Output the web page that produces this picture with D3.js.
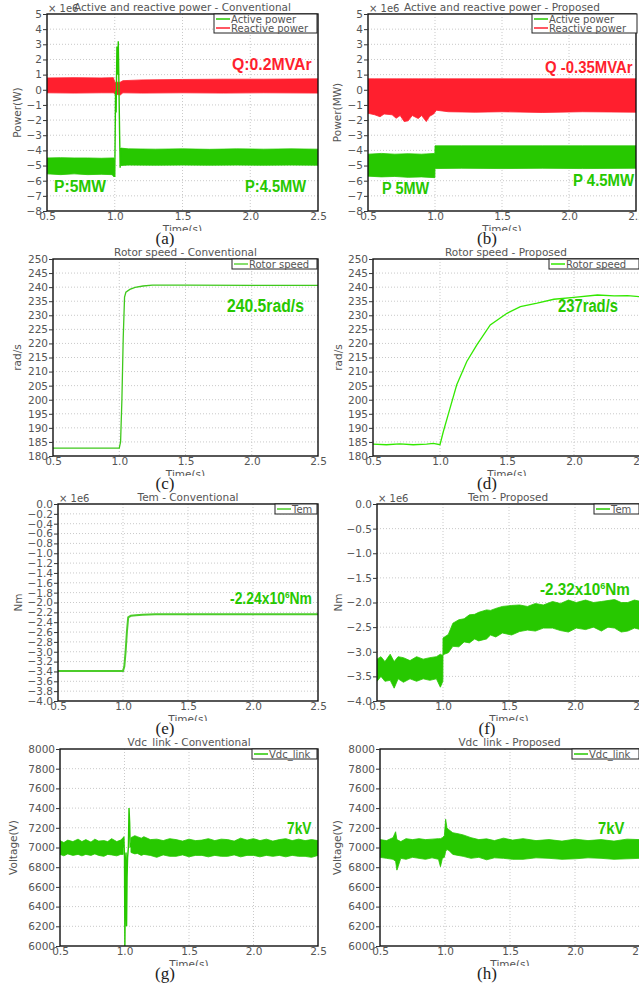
<!DOCTYPE html>
<html>
<head>
<meta charset="utf-8">
<script src="https://cdn.jsdelivr.net/npm/d3@7"></script>
<style>
  body { margin: 0; background: #fff; }
  svg text { font-family: "DejaVu Sans", sans-serif; }
</style>
</head>
<body>
<div id="chart"></div>
<script>
// ---- data ----
const timeTicks = [0.5, 1.0, 1.5, 2.0, 2.5];

// (a) conventional power, x1e6 : [t, low, high]
const pConvBand = [[0.5,-5.55,-4.5],[0.6,-5.6,-4.48],[0.7,-5.55,-4.5],[0.8,-5.6,-4.5],[0.9,-5.58,-4.52],[0.98,-5.6,-4.5],[0.995,-5.75,-4.5],[1.0,null,null],[1.046,-5.0,-3.85],[1.1,-4.97,-3.9],[1.3,-4.98,-3.92],[1.5,-4.97,-3.9],[1.7,-4.98,-3.93],[1.9,-4.97,-3.9],[2.1,-4.98,-3.92],[2.3,-4.97,-3.9],[2.5,-4.98,-3.92]];
const pConvJump = [[0.995,-4.6],[1.0,-5.75],[1.006,-0.1],[1.01,-1.5],[1.016,2.85],[1.021,1.0],[1.026,3.2],[1.031,0.2],[1.036,-3.0],[1.04,-5.15],[1.044,-3.85],[1.046,-4.6]];
const qConvBand = [[0.5,-0.2,0.78],[0.7,-0.22,0.8],[0.9,-0.2,0.78],[0.99,-0.2,0.8],[1.0,-0.28,0.5],[1.04,-0.35,0.5],[1.06,-0.2,0.6],[1.2,-0.22,0.65],[1.5,-0.2,0.68],[1.8,-0.22,0.7],[2.1,-0.2,0.7],[2.5,-0.22,0.72]];

// (b) proposed power, x1e6
const pPropBand = [[0.5,-5.7,-4.25],[0.6,-5.75,-4.2],[0.7,-5.72,-4.25],[0.8,-5.78,-4.22],[0.9,-5.75,-4.25],[0.999,-5.8,-4.2],[1.0,-5.2,-3.7],[1.2,-5.18,-3.7],[1.5,-5.2,-3.7],[1.8,-5.18,-3.7],[2.1,-5.2,-3.7],[2.5,-5.18,-3.7]];
const qPropBand = [[0.5,-1.55,0.72],[0.55,-1.65,0.72],[0.59,-1.78,0.72],[0.62,-1.6,0.72],[0.68,-1.65,0.72],[0.71,-1.88,0.72],[0.74,-1.7,0.72],[0.77,-2.1,0.72],[0.8,-2.05,0.72],[0.83,-1.7,0.72],[0.875,-1.9,0.72],[0.9,-1.7,0.72],[0.935,-2.1,0.72],[0.96,-1.75,0.72],[0.99,-1.6,0.72],[1.01,-1.35,0.72],[1.1,-1.45,0.72],[1.3,-1.48,0.72],[1.5,-1.45,0.72],[1.8,-1.5,0.72],[2.1,-1.45,0.72],[2.5,-1.48,0.72]];

// (c), (d) rotor speed, rad/s : [t, value]
const rotorConv = [[0.5,182.8],[1.0,182.8],[1.01,185],[1.02,200],[1.03,222],[1.04,236.5],[1.05,238.2],[1.08,239.2],[1.12,239.9],[1.18,240.4],[1.25,240.7],[1.5,240.7],[2.0,240.6],[2.5,240.6]];
const rotorProp = [[0.5,184.2],[0.6,184.0],[0.7,184.3],[0.8,184.0],[0.9,184.2],[0.95,184.5],[1.0,184.0],[1.025,188.7],[1.075,197],[1.125,205.3],[1.2,213.6],[1.275,219.5],[1.375,226.6],[1.5,230.7],[1.6,233.1],[1.725,234.3],[1.85,235.7],[2.0,236.4],[2.175,237.2],[2.3,236.9],[2.4,237.0],[2.5,236.6]];

// (e), (f) electromagnetic torque, x1e6 Nm
const temConv = [[0.5,-3.39],[1.0,-3.39],[1.01,-3.3],[1.02,-3.0],[1.03,-2.6],[1.04,-2.3],[1.06,-2.27],[1.1,-2.26],[1.15,-2.25],[1.25,-2.24],[2.5,-2.24]];
const temPropBand = [[0.5,-3.6,-3.15],[0.53,-3.5,-3.1],[0.56,-3.6,-3.2],[0.6,-3.58,-3.05],[0.63,-3.74,-3.2],[0.66,-3.55,-3.1],[0.7,-3.62,-3.12],[0.75,-3.55,-3.18],[0.8,-3.6,-3.1],[0.85,-3.55,-3.15],[0.9,-3.58,-3.12],[0.95,-3.55,-3.1],[0.98,-3.72,-3.05],[0.999,-3.6,-3.08],[1.0,-3.06,-2.72],[1.04,-3.02,-2.65],[1.075,-2.89,-2.42],[1.12,-2.9,-2.35],[1.16,-2.8,-2.33],[1.2,-2.82,-2.25],[1.24,-2.74,-2.24],[1.27,-2.78,-2.2],[1.33,-2.74,-2.15],[1.36,-2.66,-2.16],[1.4,-2.7,-2.12],[1.45,-2.62,-2.08],[1.52,-2.66,-2.06],[1.58,-2.59,-2.05],[1.64,-2.56,-2.08],[1.7,-2.58,-2.02],[1.76,-2.52,-2.05],[1.83,-2.52,-1.98],[1.89,-2.57,-2.02],[1.95,-2.6,-1.95],[2.01,-2.52,-2.0],[2.08,-2.55,-1.95],[2.14,-2.5,-2.0],[2.2,-2.58,-1.98],[2.25,-2.5,-1.96],[2.3,-2.52,-1.94],[2.35,-2.6,-2.0],[2.4,-2.58,-2.0],[2.45,-2.52,-1.95],[2.5,-2.55,-1.98]];

// (g), (h) dc link voltage, V
const vdcConvBand = [[0.5,6930,7070],[0.53,6915,7050],[0.56,6935,7075],[0.6,6920,7060],[0.64,6930,7085],[0.67,6915,7060],[0.7,6930,7080],[0.74,6920,7055],[0.77,6935,7085],[0.8,6920,7065],[0.84,6910,7070],[0.87,6930,7060],[0.9,6925,7090],[0.94,6915,7060],[0.97,6930,7075],[0.99,6930,7100],[1.0,null,null],[1.05,6950,7100],[1.08,6935,7120],[1.1,6940,7110],[1.13,6920,7095],[1.15,6930,7110],[1.2,6920,7080],[1.25,6900,7085],[1.3,6925,7070],[1.35,6910,7090],[1.4,6910,7080],[1.45,6925,7065],[1.5,6905,7085],[1.55,6920,7070],[1.6,6920,7075],[1.65,6905,7090],[1.7,6920,7070],[1.75,6910,7085],[1.8,6910,7080],[1.85,6925,7065],[1.9,6905,7095],[1.95,6920,7075],[2.0,6920,7090],[2.05,6905,7070],[2.1,6920,7085],[2.15,6910,7065],[2.2,6920,7080],[2.25,6905,7090],[2.3,6920,7070],[2.35,6910,7085],[2.4,6910,7070],[2.45,6900,7080],[2.5,6920,7070]];
const vdcConvJump = [[0.99,7000],[0.995,7110],[1.0,6900],[1.003,6000],[1.008,6800],[1.012,6950],[1.016,6200],[1.02,6700],[1.024,6900],[1.03,7000],[1.035,7400],[1.04,7250],[1.044,7000],[1.05,7050]];
const vdcPropBand = [[0.5,6900,7080],[0.55,6890,7070],[0.6,6880,7100],[0.62,6860,7160],[0.63,6770,7080],[0.66,6890,7060],[0.7,6880,7090],[0.75,6900,7080],[0.8,6890,7090],[0.85,6880,7080],[0.9,6895,7085],[0.95,6880,7090],[0.965,6805,7090],[0.98,6890,7100],[0.995,6900,7120],[1.005,6960,7287],[1.015,6980,7200],[1.03,6970,7180],[1.06,6930,7150],[1.1,6920,7140],[1.14,6910,7128],[1.2,6890,7100],[1.26,6900,7080],[1.32,6875,7088],[1.38,6895,7070],[1.45,6890,7095],[1.52,6880,7075],[1.6,6880,7090],[1.7,6895,7070],[1.8,6890,7080],[1.9,6880,7065],[2.0,6885,7085],[2.1,6895,7070],[2.2,6890,7080],[2.3,6880,7065],[2.4,6885,7085],[2.5,6890,7080]];

const GREEN = "#27c800", RED = "#ff1f2e";

const panels = [
  {label:"(a)", box:[47,318,14,211], yDomain:[-8,5], yTicks:d3.range(-8,6,1), fmt:d3.format("d"),
   title:"Active and reactive power - Conventional", yName:"Power(W)", yNameX:17, exp:true,
   legend:{x:214, w:103, items:[["Active power",GREEN],["Reactive power",RED]]},
   bands:[[qConvBand,RED],[pConvBand,GREEN]], lines:[[pConvJump,GREEN,1.4]],
   notes:[{t:"Q:0.2MVAr",x:232,y:70,w:80,c:RED,s:17},{t:"P:5MW",x:54,y:192,w:53,c:GREEN,s:17},{t:"P:4.5MW",x:245,y:192,w:62,c:GREEN,s:17}]},
  {label:"(b)", box:[368,636,14,211], yDomain:[-8,5], yTicks:d3.range(-8,6,1), fmt:d3.format("d"),
   title:"Active and reactive power - Proposed", yName:"Power(MW)", yNameX:337, exp:true,
   legend:{x:532, w:105, items:[["Active power",GREEN],["Reactive power",RED]]},
   bands:[[qPropBand,RED],[pPropBand,GREEN]], lines:[],
   notes:[{t:"Q -0.35MVAr",x:545,y:73,w:88,c:RED,s:17},{t:"P 5MW",x:382,y:194,w:48,c:GREEN,s:17},{t:"P 4.5MW",x:573,y:186,w:62,c:GREEN,s:17}]},
  {label:"(c)", box:[53,318,259,456], yDomain:[180,250], yTicks:d3.range(180,251,5), fmt:d3.format("d"),
   title:"Rotor speed - Conventional", yName:"rad/s", yNameX:17, exp:false,
   legend:{x:232, w:85, items:[["Rotor speed","#5fd33c"]]},
   bands:[], lines:[[rotorConv,"#3fc81c",1.3]],
   notes:[{t:"240.5rad/s",x:227,y:312,w:77,c:GREEN,s:19}]},
  {label:"(d)", box:[373,641,259,456], yDomain:[180,250], yTicks:d3.range(180,251,5), fmt:d3.format("d"),
   title:"Rotor speed - Proposed", yName:"rad/s", yNameX:338, exp:false,
   legend:{x:549, w:90, items:[["Rotor speed","#33e800"]]},
   bands:[], lines:[[rotorProp,"#33e800",1.3]],
   notes:[{t:"237rad/s",x:558,y:312,w:60,c:GREEN,s:19}]},
  {label:"(e)", box:[58,318,504,701], yDomain:[-4,0], yTicks:d3.range(-40,1,2).map(d => d/10), fmt:d3.format(".1f"),
   title:"Tem - Conventional", yName:"Nm", yNameX:18, exp:true,
   legend:{x:275, w:42, items:[["Tem","#4ccc2a"]]},
   bands:[], lines:[[temConv,"#4ccc2a",2]],
   notes:[{t:"-2.24x10",sup:"6",after:"Nm",x:230,y:604,w:82,c:GREEN,s:16}]},
  {label:"(f)", box:[377,641,504,701], yDomain:[-4,0], yTicks:d3.range(-40,1,5).map(d => d/10), fmt:d3.format(".1f"),
   title:"Tem - Proposed", yName:"Nm", yNameX:338, exp:true,
   legend:{x:594, w:45, items:[["Tem",GREEN]]},
   bands:[[temPropBand,GREEN]], lines:[],
   notes:[{t:"-2.32x10",sup:"6",after:"Nm",x:540,y:595,w:90,c:GREEN,s:16}]},
  {label:"(g)", box:[60,318,749,946], yDomain:[6000,8000], yTicks:d3.range(6000,8001,200), fmt:d3.format("d"),
   title:"Vdc_link - Conventional", yName:"Voltage(V)", yNameX:13, exp:false,
   legend:{x:252, w:65, items:[["Vdc_link",GREEN]]},
   bands:[[vdcConvBand,GREEN]], lines:[[vdcConvJump,GREEN,1.4]],
   notes:[{t:"7kV",x:287,y:834,w:25,c:GREEN,s:17}]},
  {label:"(h)", box:[380,640,749,946], yDomain:[6000,8000], yTicks:d3.range(6000,8001,200), fmt:d3.format("d"),
   title:"Vdc_link - Proposed", yName:"Voltage(V)", yNameX:337, exp:false,
   legend:{x:572, w:67, items:[["Vdc_link",GREEN]]},
   bands:[[vdcPropBand,GREEN]], lines:[],
   notes:[{t:"7kV",x:598,y:834,w:27,c:GREEN,s:17}]}
];

const svg = d3.select("#chart").append("svg")
  .attr("width", 639).attr("height", 985);

panels.forEach((p, i) => drawPanel(p, i));

function drawPanel(p, i) {
  const [left, right, top, bottom] = p.box;
  const g = svg.append("g");
  const x = d3.scaleLinear().domain([0.5, 2.5]).range([left, right]);
  const y = d3.scaleLinear().domain(p.yDomain).range([bottom, top]);

  const clipId = "clip" + i;
  svg.append("clipPath").attr("id", clipId)
    .append("rect").attr("x", left).attr("y", top)
    .attr("width", right - left).attr("height", bottom - top);

  // dotted grid
  const grid = g.append("g").attr("stroke", "#c9c9c9").attr("stroke-dasharray", "1,2").attr("stroke-width", 1);
  grid.selectAll(".gx").data(timeTicks.slice(1, -1)).join("line")
    .attr("x1", d => x(d)).attr("x2", d => x(d)).attr("y1", top).attr("y2", bottom);
  grid.selectAll(".gy").data(p.yTicks.slice(1, -1)).join("line")
    .attr("y1", d => y(d)).attr("y2", d => y(d)).attr("x1", left).attr("x2", right);

  // series
  const plot = g.append("g").attr("clip-path", `url(#${clipId})`);
  const area = d3.area()
    .defined(d => d[1] !== null)
    .x(d => x(d[0])).y0(d => y(d[1])).y1(d => y(d[2]));
  p.bands.forEach(([data, color]) => {
    plot.append("path").datum(data).attr("d", area)
      .attr("fill", color).attr("stroke", color).attr("stroke-width", 0.8);
  });
  const line = d3.line().x(d => x(d[0])).y(d => y(d[1]));
  p.lines.forEach(([data, color, w]) => {
    plot.append("path").datum(data).attr("d", line)
      .attr("fill", "none").attr("stroke", color).attr("stroke-width", w);
  });

  // frame
  g.append("rect").attr("x", left).attr("y", top)
    .attr("width", right - left).attr("height", bottom - top)
    .attr("fill", "none").attr("stroke", "#111").attr("stroke-width", 1.4);

  // axes
  const yAxis = g.append("g").attr("transform", `translate(${left},0)`)
    .call(d3.axisLeft(y).tickValues(p.yTicks).tickFormat(p.fmt).tickSize(4).tickPadding(1));
  yAxis.select(".domain").remove();
  yAxis.selectAll("line").attr("stroke", "#333");
  yAxis.selectAll("text").attr("fill", "#555").style("font-size", "10.5px");

  const xAxis = g.append("g").attr("transform", `translate(0,${bottom})`)
    .call(d3.axisBottom(x).tickValues(timeTicks).tickFormat(d3.format(".1f")).tickSize(0).tickPadding(2));
  xAxis.select(".domain").remove();
  xAxis.selectAll("text").attr("fill", "#555").style("font-size", "10.5px");

  // Time(s) label, lower half hidden as in the reference
  const tClip = "tclip" + i;
  svg.append("clipPath").attr("id", tClip)
    .append("rect").attr("x", left).attr("y", bottom + 12).attr("width", right - left).attr("height", 8);
  g.append("text").attr("clip-path", `url(#${tClip})`)
    .attr("x", x(1.5)).attr("y", bottom + 22)
    .attr("text-anchor", "middle").attr("fill", "#555").style("font-size", "10.5px")
    .text("Time(s)");

  // y axis name
  g.append("text")
    .attr("transform", `translate(${p.yNameX + 4},${(top + bottom) / 2}) rotate(-90)`)
    .attr("text-anchor", "middle").attr("fill", "#555").style("font-size", "10.5px")
    .text(p.yName);

  // title
  g.append("text").attr("x", (left + Math.min(right, 639)) / 2).attr("y", top - 3)
    .attr("text-anchor", "middle").attr("fill", "#555").style("font-size", "10.5px")
    .text(p.title);

  if (p.exp) {
    g.append("text").attr("x", left + 1).attr("y", top - 2)
      .attr("fill", "#555").style("font-size", "10px").text("× 1e6");
  }

  // legend
  const rowH = 9;
  const lg = g.append("g");
  lg.append("rect").attr("x", p.legend.x).attr("y", top)
    .attr("width", p.legend.w).attr("height", rowH * p.legend.items.length + 1)
    .attr("fill", "#fff").attr("stroke", "#222").attr("stroke-width", 1);
  p.legend.items.forEach(([name, color], k) => {
    const cy = top + rowH * k + 5;
    lg.append("line").attr("x1", p.legend.x + 2).attr("x2", p.legend.x + 16)
      .attr("y1", cy).attr("y2", cy).attr("stroke", color).attr("stroke-width", 1.5);
    lg.append("text").attr("x", p.legend.x + 17).attr("y", cy + 4)
      .attr("fill", "#555").style("font-size", "10px").text(name);
  });

  // annotations, squeezed horizontally to the narrow bold face of the reference
  p.notes.forEach(n => {
    const ng = g.append("g");
    const t = ng.append("text").attr("x", 0).attr("y", 0)
      .attr("fill", n.c).style("font-family", "'Liberation Sans', Arial, sans-serif")
      .style("font-weight", "bold").style("font-size", n.s + "px");
    t.append("tspan").text(n.t);
    if (n.sup) {
      t.append("tspan").attr("dy", -6).style("font-size", (n.s * 0.6) + "px").text(n.sup);
      t.append("tspan").attr("dy", 6).text(n.after);
    }
    const bw = t.node().getBBox().width;
    ng.attr("transform", `translate(${n.x},${n.y}) scale(${n.w / bw},1)`);
  });

  // panel label
  g.append("text").attr("x", i % 2 === 0 ? 165 : 487).attr("y", bottom + 33)
    .attr("text-anchor", "middle").attr("fill", "#222")
    .style("font-family", "'Liberation Serif', 'Times New Roman', serif").style("font-size", "17px")
    .text(p.label);
}
</script>
</body>
</html>
